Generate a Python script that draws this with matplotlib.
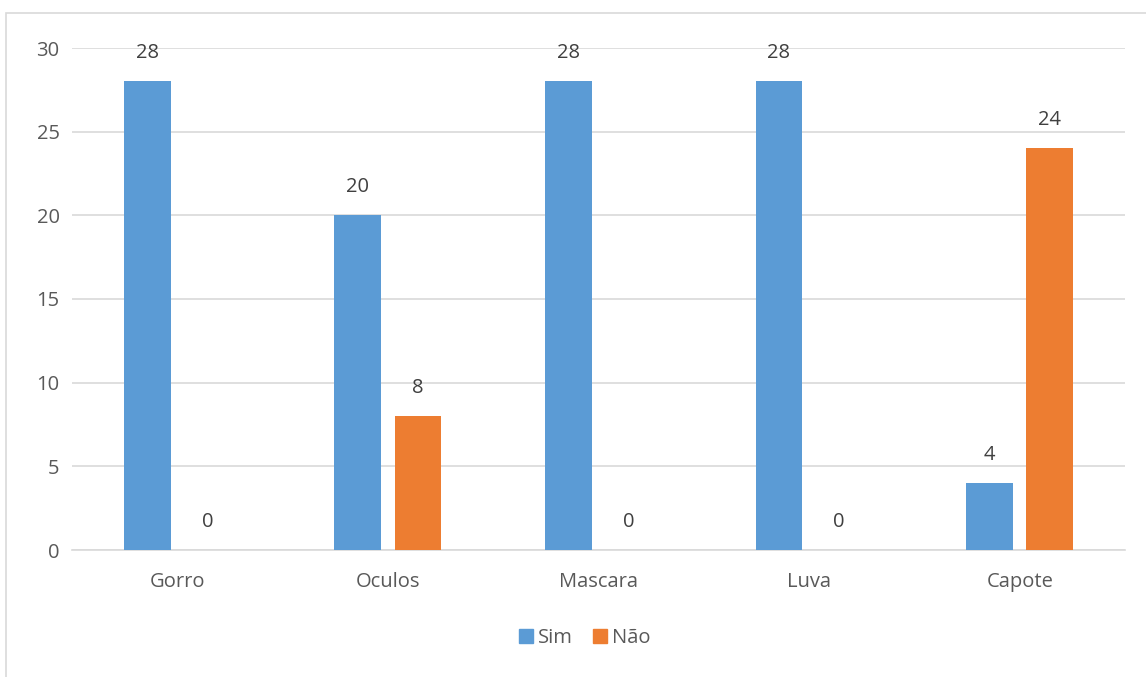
import matplotlib
matplotlib.use("Agg")
import matplotlib.pyplot as plt
import numpy as np
from matplotlib.patches import Rectangle, Patch

categories = ["Gorro", "Oculos", "Mascara", "Luva", "Capote"]
sim = [28, 20, 28, 28, 4]
nao = [0, 8, 0, 0, 24]
yticks = [0, 5, 10, 15, 20, 25, 30]

blue = "#5B9BD5"
orange = "#ED7D31"
txt = "#595959"
plt.rcParams['font.family'] = ['Open Sans', 'DejaVu Sans']
FS = 14.5

W, H = 1146, 677
fig = plt.figure(figsize=(W/100, H/100), dpi=100)
fig.patches.append(Rectangle((6/W, -0.1), 1.2, 1 - 13/H + 0.1, transform=fig.transFigure,
                             fill=False, edgecolor="#D9D9D9", linewidth=1.2))
ax = fig.add_axes([72/W, 1 - 550/H, (1125-72)/W, (550-48)/H])

x = np.arange(len(categories))
bw = 0.223
off = 0.143
b1 = ax.bar(x - off, sim, bw, color=blue, label="Sim", zorder=3)
b2 = ax.bar(x + off, nao, bw, color=orange, label="Não", zorder=3)
for bars, vals in ((b1, sim), (b2, nao)):
    for r, v in zip(bars, vals):
        ax.annotate(str(v), (r.get_x() + r.get_width()/2, v), xytext=(0, 20.5),
                    textcoords="offset points", ha="center", va="center",
                    fontsize=FS, color="#404040")

ax.set_xlim(-0.5, len(categories) - 0.5)
ax.set_ylim(0, 30)
ax.set_yticks(yticks)
ax.set_xticks(x)
ax.set_xticklabels(categories)
ax.tick_params(axis="both", length=0, labelsize=FS, labelcolor=txt)
ax.tick_params(axis="y", pad=9)
ax.tick_params(axis="x", pad=16)
ax.grid(axis="y", color="#D9D9D9", linewidth=1.2, zorder=0)
for s in ("top", "right", "left"):
    ax.spines[s].set_visible(False)
ax.spines["bottom"].set_color("#D9D9D9")
ax.spines["bottom"].set_linewidth(1.2)

handles = [Patch(color=blue, label="Sim"), Patch(color=orange, label="Não")]
fig.legend(handles=handles, loc="center", bbox_to_anchor=(585/W, 1 - 638/H), ncol=2,
           frameon=False, fontsize=FS, labelcolor=txt, handlelength=0.7, handleheight=0.7,
           handletextpad=0.25, columnspacing=1.0)

fig.savefig("out.png", dpi=100, facecolor="white")
